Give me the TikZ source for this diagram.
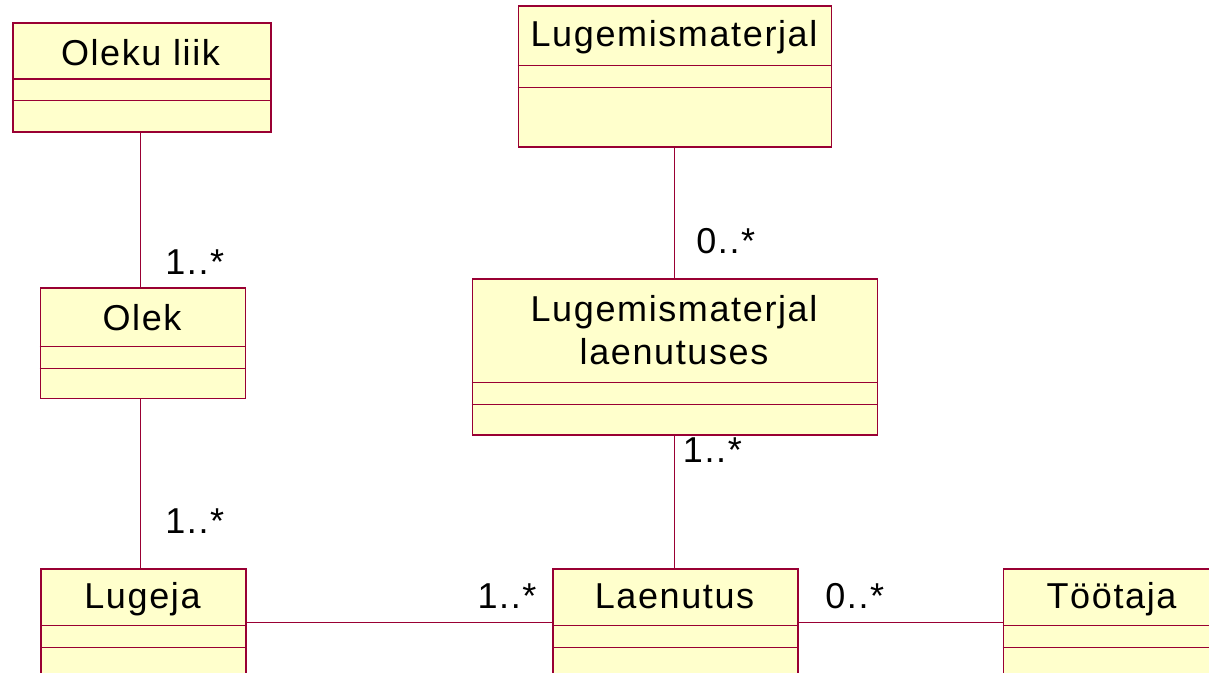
\documentclass[tikz,border=0pt]{standalone}
\usepackage{fontspec}
\setmainfont{Liberation Sans}[LetterSpace=4.5]
\begin{document}
\definecolor{umlline}{RGB}{153,0,51}
\definecolor{umlfill}{RGB}{255,255,204}
\tikzset{
  classbox/.style={draw=umlline, fill=umlfill, line width=1.2pt, rectangle, inner sep=0pt, anchor=north west},
  divider/.style={draw=umlline, line width=0.9pt},
  assoc/.style={draw=umlline, line width=0.8pt},
  title/.style={anchor=base, inner sep=0pt, font=\fontsize{27}{32}\selectfont, align=center},
  mult/.style={anchor=base west, inner sep=0pt, font=\fontsize{27}{32}\selectfont},
}
% class box: name, left, top, right, bottom, first divider, second divider
\newcommand\umlclass[7]{%
  \node[classbox, minimum width={(#4-#2)*0.75pt}, minimum height={(#5-#3)*0.75pt}] (#1) at (#2,#3) {};
  \draw[divider] (#2,#6) -- (#4,#6);
  \draw[divider] (#2,#7) -- (#4,#7);
}
\begin{tikzpicture}[x=0.75pt, y=-0.75pt]
\clip (0,0) rectangle (1209,673);
\fill[white] (0,0) rectangle (1209,673);

% classes
\umlclass{olekuliik}{12}{22}{270}{131}{79}{100.5}
\umlclass{lugmat}{517.5}{5.5}{830.5}{146.5}{65.5}{87.5}
\umlclass{olek}{39.5}{287}{244.5}{397.5}{346.5}{368.5}
\umlclass{lmlaen}{471.5}{278.5}{876.5}{434}{382.5}{404.5}
\umlclass{lugeja}{40}{568}{245}{720}{625.5}{647.5}
\umlclass{laenutus}{552}{568}{797}{720}{625.5}{647.5}
\umlclass{tootaja}{1002.5}{568}{1260}{720}{625.5}{647.5}

% class names
\node[title] (t1) at (140.5,65.5) {Oleku liik};
\node[title] (t2) at (674,46.5) {Lugemismaterjal};
\node[title] (t3) at (142,330) {Olek};
\node[title] (t4) at (674,364.3) {Lugemismaterjal\\laenutuses};
\node[title] (t5) at (142.5,608.5) {Lugeja};
\node[title] (t6) at (674.5,608.5) {Laenutus};
\node[title] (t7) at (1111.5,608.5) {Töötaja};

% associations
\coordinate (c1) at (olekuliik.south -| 140.7,0);
\draw[assoc] (c1) -- (c1 |- olek.north);
\coordinate (c2) at (olek.south -| 140.7,0);
\draw[assoc] (c2) -- (c2 |- lugeja.north);
\coordinate (c3) at (lugmat.south -| 674.3,0);
\draw[assoc] (c3) -- (c3 |- lmlaen.north);
\coordinate (c4) at (lmlaen.south -| 674.3,0);
\draw[assoc] (c4) -- (c4 |- laenutus.north);
\coordinate (c5) at (lugeja.east |- 0,622.3);
\draw[assoc] (c5) -- (c5 -| laenutus.west);
\coordinate (c6) at (laenutus.east |- 0,622.3);
\draw[assoc] (c6) -- (c6 -| tootaja.west);

% multiplicities
\node[mult] (m1) at (165,274.3) {1..*};
\node[mult] (m2) at (165,533.3) {1..*};
\node[mult] (m3) at (696,253.3) {0..*};
\node[mult] (m4) at (682.7,462.3) {1..*};
\node[mult] (m5) at (477.3,608.3) {1..*};
\node[mult] (m6) at (825,608.3) {0..*};
\end{tikzpicture}
\end{document}
